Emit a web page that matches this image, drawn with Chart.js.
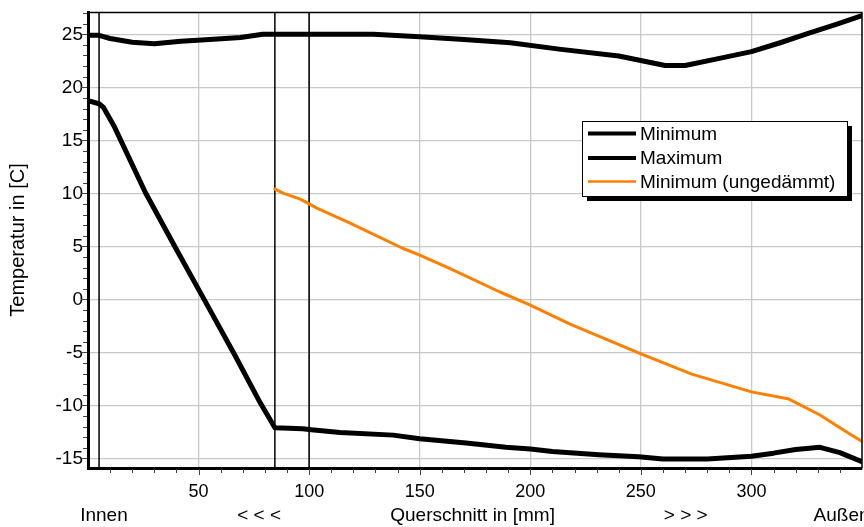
<!DOCTYPE html>
<html>
<head>
<meta charset="utf-8">
<script src="https://cdn.jsdelivr.net/npm/chart.js@4.4.1/dist/chart.umd.min.js"></script>
<style>
  html, body { margin: 0; padding: 0; background: #fff; }
</style>
</head>
<body>
<canvas id="tempChart" width="864" height="527"></canvas>
<script>
// Querschnitt in mm / Temperatur in C
const maxX = [0, 5, 10, 20, 30, 42, 55, 69, 79, 129, 150, 170, 191, 213, 240, 261, 270, 285, 300, 313, 326, 338, 350];
const maxY = [24.9, 24.9, 24.6, 24.25, 24.1, 24.35, 24.5, 24.7, 25.0, 25.0, 24.77, 24.5, 24.2, 23.6, 22.95, 22.05, 22.05, 22.7, 23.36, 24.2, 25.1, 25.9, 26.75];

const minX = [0, 5, 7, 12, 26, 40, 52.5, 66, 78, 82, 84.5, 91, 97, 101, 114, 138, 150, 171, 189, 200, 210, 231, 249, 260, 280, 300, 310, 320, 331, 340, 350];
const minY = [18.75, 18.45, 18.1, 16.25, 10.05, 4.7, 0, -5.1, -9.8, -11.2, -12.1, -12.15, -12.2, -12.3, -12.55, -12.8, -13.15, -13.55, -13.95, -14.1, -14.35, -14.65, -14.85, -15.05, -15.05, -14.8, -14.5, -14.15, -13.95, -14.45, -15.3];

const ungX = [84.5, 88.5, 96, 100, 103.5, 118.5, 142.5, 150, 163.5, 186, 200, 218, 249.5, 273, 300, 317, 331, 340, 350];
const ungY = [10.4, 10.0, 9.45, 9.0, 8.6, 7.2, 4.8, 4.18, 2.92, 0.72, -0.54, -2.33, -5.09, -7.05, -8.72, -9.4, -10.9, -12.1, -13.4];

const xTicks = [50, 100, 150, 200, 250, 300];
const yTicks = [-15, -10, -5, 0, 5, 10, 15, 20, 25];
const layerBounds = [5, 84.5, 100];   // Schichtgrenzen
const axisNotes = ['Innen', '< < <', 'Querschnitt in [mm]', '> > >', 'Außen'];
const noteAt = [7.2, 77.4, 173.9, 270.3, 328.1];

const FONT = '"Liberation Sans", Arial, sans-serif';

function pts(xs, ys) {
    return xs.map((x, i) => ({ x: x, y: ys[i] }));
}

const overlay = {
    id: 'overlay',
    beforeDatasetsDraw(chart) {
        const { ctx, chartArea: a } = chart;
        const x = chart.scales.x;
        ctx.save();
        ctx.strokeStyle = '#000';
        ctx.lineWidth = 1.5;
        layerBounds.forEach(v => {
            const px = x.getPixelForValue(v);
            ctx.beginPath();
            ctx.moveTo(px, a.top);
            ctx.lineTo(px, a.bottom);
            ctx.stroke();
        });
        ctx.restore();
    },
    afterDraw(chart) {
        const { ctx, chartArea: a } = chart;
        const x = chart.scales.x, y = chart.scales.y;
        ctx.save();

        // top + right frame
        ctx.strokeStyle = '#000';
        ctx.lineWidth = 1.5;
        ctx.beginPath();
        ctx.moveTo(a.left, a.top + 0.5);
        ctx.lineTo(a.right, a.top + 0.5);
        ctx.lineTo(a.right, a.bottom);
        ctx.stroke();

        // small ticks
        ctx.strokeStyle = '#444';
        ctx.lineWidth = 1;
        for (let v = -15; v <= 27; v++) {
            const py = Math.round(y.getPixelForValue(v)) + 0.5;
            const len = v % 5 === 0 ? 6 : 4;
            ctx.beginPath();
            ctx.moveTo(a.left - 1 - len, py);
            ctx.lineTo(a.left - 1, py);
            ctx.stroke();
        }
        for (let v = 10; v < 350; v += 10) {
            const px = Math.round(x.getPixelForValue(v)) + 0.5;
            const len = v % 50 === 0 ? 6 : 4;
            ctx.beginPath();
            ctx.moveTo(px, a.bottom + 1);
            ctx.lineTo(px, a.bottom + 1 + len);
            ctx.stroke();
        }

        // notes under the axis
        ctx.fillStyle = '#000';
        ctx.font = '19px ' + FONT;
        ctx.textBaseline = 'alphabetic';
        axisNotes.forEach((t, i) => {
            ctx.textAlign = i === axisNotes.length - 1 ? 'left' : 'center';
            ctx.fillText(t, x.getPixelForValue(noteAt[i]), a.bottom + 53);
        });

        // legend box with shadow
        const bx = 582, by = 121, bw = 265, bh = 75;
        ctx.fillStyle = '#000';
        ctx.fillRect(bx + 5, by + 5, bw, bh);
        ctx.fillStyle = '#fff';
        ctx.fillRect(bx, by, bw, bh);
        ctx.strokeStyle = '#000';
        ctx.lineWidth = 1;
        ctx.strokeRect(bx + 0.5, by + 0.5, bw, bh);
        const rows = [133.5, 158, 181.5];
        ctx.textAlign = 'left';
        ctx.textBaseline = 'middle';
        chart.data.datasets.forEach((ds, i) => {
            ctx.strokeStyle = ds.borderColor;
            ctx.lineWidth = ds.borderColor === '#000000' ? 4 : 2.5;
            ctx.beginPath();
            ctx.moveTo(588, rows[i]);
            ctx.lineTo(636, rows[i]);
            ctx.stroke();
            ctx.fillStyle = '#000';
            ctx.fillText(ds.label, 640, rows[i] + 1);
        });
        ctx.restore();
    }
};

new Chart(document.getElementById('tempChart').getContext('2d'), {
    type: 'line',
    data: {
        datasets: [
            { label: 'Minimum', data: pts(minX, minY), borderColor: '#000000', borderWidth: 5 },
            { label: 'Maximum', data: pts(maxX, maxY), borderColor: '#000000', borderWidth: 5 },
            { label: 'Minimum (ungedämmt)', data: pts(ungX, ungY), borderColor: '#ff8000', borderWidth: 3 }
        ]
    },
    options: {
        responsive: false,
        animation: false,
        parsing: false,
        elements: {
            point: { radius: 0 },
            line: { tension: 0, borderJoinStyle: 'round', borderCapStyle: 'round' }
        },
        layout: { padding: { top: 12, right: 2, left: 0, bottom: 0 } },
        plugins: {
            legend: { display: false },
            tooltip: { enabled: false }
        },
        scales: {
            x: {
                type: 'linear',
                min: 0,
                max: 350,
                afterBuildTicks: s => { s.ticks = xTicks.map(v => ({ value: v })); },
                afterFit: s => { s.height = 59; s.paddingLeft = 0; s.paddingRight = 0; },
                ticks: { color: '#000', font: { family: FONT, size: 18 }, padding: 13, maxRotation: 0 },
                grid: { color: '#c8c8c8', lineWidth: 1.3, drawTicks: false },
                border: { color: '#000', width: 3 }
            },
            y: {
                type: 'linear',
                min: -15.9,
                max: 27.1,
                afterBuildTicks: s => { s.ticks = yTicks.map(v => ({ value: v })); },
                afterFit: s => { s.width = 88; s.paddingTop = 0; s.paddingBottom = 0; },
                ticks: { color: '#000', font: { family: FONT, size: 19 }, padding: 5 },
                grid: { color: '#c8c8c8', lineWidth: 1.3, drawTicks: false },
                border: { color: '#000', width: 3 },
                title: {
                    display: true,
                    text: 'Temperatur in [C]',
                    color: '#000',
                    font: { family: FONT, size: 20 },
                    padding: { top: 6 }
                }
            }
        }
    },
    plugins: [overlay]
});
</script>
</body>
</html>
